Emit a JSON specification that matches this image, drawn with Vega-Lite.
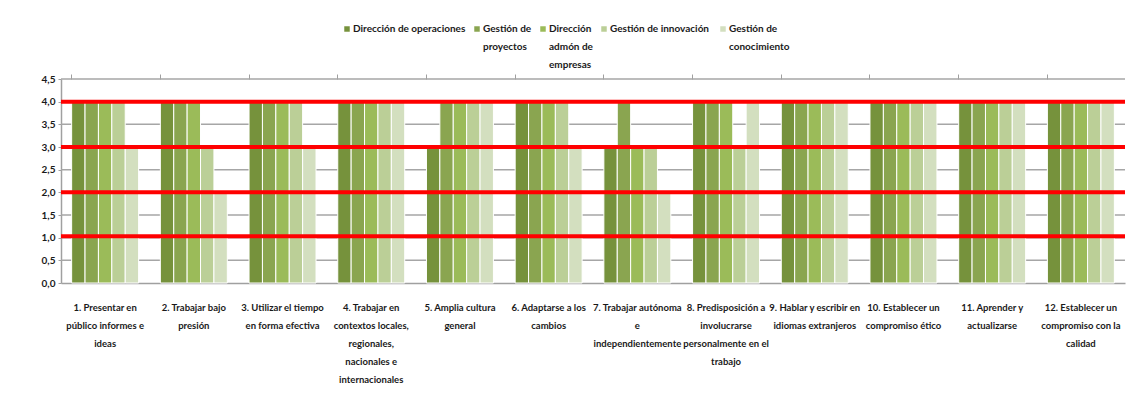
{
  "$schema": "https://vega.github.io/schema/vega-lite/v6.json",
  "width": 1064,
  "height": 204,
  "autosize": "none",
  "padding": {"left": 61, "top": 79, "right": 11, "bottom": 121},
  "background": "white",
  "config": {
    "font": "Lato",
    "view": {"stroke": null},
    "style": {"guide-label": {"lineHeight": 18}},
    "axis": {"labelFont": "Lato", "labelFontWeight": "bold", "labelFontSize": 9.5, "labelColor": "#1a1a1a", "domainColor": "#a0a0a0", "tickColor": "#a0a0a0"}
  },
  "datasets": {
    "scores": [
      {"comp": "1. Presentar en|público informes e|ideas", "serie": "Dirección de operaciones", "valor": 4},
      {"comp": "1. Presentar en|público informes e|ideas", "serie": "Gestión de proyectos", "valor": 4},
      {"comp": "1. Presentar en|público informes e|ideas", "serie": "Dirección admón de empresas", "valor": 4},
      {"comp": "1. Presentar en|público informes e|ideas", "serie": "Gestión de innovación", "valor": 4},
      {"comp": "1. Presentar en|público informes e|ideas", "serie": "Gestión de conocimiento", "valor": 3},
      {"comp": "2. Trabajar  bajo|presión", "serie": "Dirección de operaciones", "valor": 4},
      {"comp": "2. Trabajar  bajo|presión", "serie": "Gestión de proyectos", "valor": 4},
      {"comp": "2. Trabajar  bajo|presión", "serie": "Dirección admón de empresas", "valor": 4},
      {"comp": "2. Trabajar  bajo|presión", "serie": "Gestión de innovación", "valor": 3},
      {"comp": "2. Trabajar  bajo|presión", "serie": "Gestión de conocimiento", "valor": 2},
      {"comp": "3. Utilizar el tiempo|en forma efectiva", "serie": "Dirección de operaciones", "valor": 4},
      {"comp": "3. Utilizar el tiempo|en forma efectiva", "serie": "Gestión de proyectos", "valor": 4},
      {"comp": "3. Utilizar el tiempo|en forma efectiva", "serie": "Dirección admón de empresas", "valor": 4},
      {"comp": "3. Utilizar el tiempo|en forma efectiva", "serie": "Gestión de innovación", "valor": 4},
      {"comp": "3. Utilizar el tiempo|en forma efectiva", "serie": "Gestión de conocimiento", "valor": 3},
      {"comp": "4. Trabajar  en|contextos locales,|regionales,|nacionales e|internacionales", "serie": "Dirección de operaciones", "valor": 4},
      {"comp": "4. Trabajar  en|contextos locales,|regionales,|nacionales e|internacionales", "serie": "Gestión de proyectos", "valor": 4},
      {"comp": "4. Trabajar  en|contextos locales,|regionales,|nacionales e|internacionales", "serie": "Dirección admón de empresas", "valor": 4},
      {"comp": "4. Trabajar  en|contextos locales,|regionales,|nacionales e|internacionales", "serie": "Gestión de innovación", "valor": 4},
      {"comp": "4. Trabajar  en|contextos locales,|regionales,|nacionales e|internacionales", "serie": "Gestión de conocimiento", "valor": 4},
      {"comp": "5. Amplia cultura|general", "serie": "Dirección de operaciones", "valor": 3},
      {"comp": "5. Amplia cultura|general", "serie": "Gestión de proyectos", "valor": 4},
      {"comp": "5. Amplia cultura|general", "serie": "Dirección admón de empresas", "valor": 4},
      {"comp": "5. Amplia cultura|general", "serie": "Gestión de innovación", "valor": 4},
      {"comp": "5. Amplia cultura|general", "serie": "Gestión de conocimiento", "valor": 4},
      {"comp": "6. Adaptarse a los|cambios", "serie": "Dirección de operaciones", "valor": 4},
      {"comp": "6. Adaptarse a los|cambios", "serie": "Gestión de proyectos", "valor": 4},
      {"comp": "6. Adaptarse a los|cambios", "serie": "Dirección admón de empresas", "valor": 4},
      {"comp": "6. Adaptarse a los|cambios", "serie": "Gestión de innovación", "valor": 4},
      {"comp": "6. Adaptarse a los|cambios", "serie": "Gestión de conocimiento", "valor": 3},
      {"comp": "7. Trabajar autónoma|e|independientemente", "serie": "Dirección de operaciones", "valor": 3},
      {"comp": "7. Trabajar autónoma|e|independientemente", "serie": "Gestión de proyectos", "valor": 4},
      {"comp": "7. Trabajar autónoma|e|independientemente", "serie": "Dirección admón de empresas", "valor": 3},
      {"comp": "7. Trabajar autónoma|e|independientemente", "serie": "Gestión de innovación", "valor": 3},
      {"comp": "7. Trabajar autónoma|e|independientemente", "serie": "Gestión de conocimiento", "valor": 2},
      {"comp": "8. Predisposición a|involucrarse|personalmente en el|trabajo", "serie": "Dirección de operaciones", "valor": 4},
      {"comp": "8. Predisposición a|involucrarse|personalmente en el|trabajo", "serie": "Gestión de proyectos", "valor": 4},
      {"comp": "8. Predisposición a|involucrarse|personalmente en el|trabajo", "serie": "Dirección admón de empresas", "valor": 4},
      {"comp": "8. Predisposición a|involucrarse|personalmente en el|trabajo", "serie": "Gestión de innovación", "valor": 3},
      {"comp": "8. Predisposición a|involucrarse|personalmente en el|trabajo", "serie": "Gestión de conocimiento", "valor": 4},
      {"comp": "9. Hablar y escribir en|idiomas extranjeros", "serie": "Dirección de operaciones", "valor": 4},
      {"comp": "9. Hablar y escribir en|idiomas extranjeros", "serie": "Gestión de proyectos", "valor": 4},
      {"comp": "9. Hablar y escribir en|idiomas extranjeros", "serie": "Dirección admón de empresas", "valor": 4},
      {"comp": "9. Hablar y escribir en|idiomas extranjeros", "serie": "Gestión de innovación", "valor": 4},
      {"comp": "9. Hablar y escribir en|idiomas extranjeros", "serie": "Gestión de conocimiento", "valor": 4},
      {"comp": "10. Establecer un|compromiso ético", "serie": "Dirección de operaciones", "valor": 4},
      {"comp": "10. Establecer un|compromiso ético", "serie": "Gestión de proyectos", "valor": 4},
      {"comp": "10. Establecer un|compromiso ético", "serie": "Dirección admón de empresas", "valor": 4},
      {"comp": "10. Establecer un|compromiso ético", "serie": "Gestión de innovación", "valor": 4},
      {"comp": "10. Establecer un|compromiso ético", "serie": "Gestión de conocimiento", "valor": 4},
      {"comp": "11. Aprender y|actualizarse", "serie": "Dirección de operaciones", "valor": 4},
      {"comp": "11. Aprender y|actualizarse", "serie": "Gestión de proyectos", "valor": 4},
      {"comp": "11. Aprender y|actualizarse", "serie": "Dirección admón de empresas", "valor": 4},
      {"comp": "11. Aprender y|actualizarse", "serie": "Gestión de innovación", "valor": 4},
      {"comp": "11. Aprender y|actualizarse", "serie": "Gestión de conocimiento", "valor": 4},
      {"comp": "12. Establecer un|compromiso con la|calidad", "serie": "Dirección de operaciones", "valor": 4},
      {"comp": "12. Establecer un|compromiso con la|calidad", "serie": "Gestión de proyectos", "valor": 4},
      {"comp": "12. Establecer un|compromiso con la|calidad", "serie": "Dirección admón de empresas", "valor": 4},
      {"comp": "12. Establecer un|compromiso con la|calidad", "serie": "Gestión de innovación", "valor": 4},
      {"comp": "12. Establecer un|compromiso con la|calidad", "serie": "Gestión de conocimiento", "valor": 4}
    ],
    "lines": [{"valor": 4}, {"valor": 3}, {"valor": 2}, {"valor": 1.03}],
    "grid": [{"valor": 0.5}, {"valor": 1}, {"valor": 1.5}, {"valor": 2}, {"valor": 2.5}, {"valor": 3}, {"valor": 3.5}, {"valor": 4}, {"valor": 4.5}]
  },
  "encoding": {
    "y": {
      "field": "valor", "type": "quantitative",
      "scale": {"domain": [0, 4.5], "nice": false},
      "axis": {"title": null, "values": [0, 0.5, 1, 1.5, 2, 2.5, 3, 3.5, 4, 4.5], "labelOverlap": false, "labelExpr": "replace(format(datum.value, '.1f'), '.', ',')", "grid": false, "tickSize": 3, "labelPadding": 3, "labelFontSize": 10, "domainWidth": 1.5}
    }
  },
  "resolve": {"axis": {"x": "independent"}},
  "layer": [
    {
      "data": {"name": "grid"},
      "mark": {"type": "rule", "color": "#a6a6a6", "strokeWidth": 1.5}
    },
    {
      "data": {"name": "scores"},
      "mark": {"type": "bar", "stroke": "white", "strokeWidth": 1},
      "encoding": {
        "x": {
          "field": "comp", "type": "nominal", "sort": null,
          "scale": {"paddingInner": 0.245, "paddingOuter": 0.12},
          "axis": {"title": null, "labelAngle": 0, "ticks": false, "labelExpr": "split(datum.label, '|')", "labelBaseline": "top", "labelPadding": 19, "labelLineHeight": 18, "labelLimit": 200, "labelOverlap": false, "domainWidth": 1.5}
        },
        "xOffset": {"field": "serie", "type": "nominal", "sort": ["Dirección de operaciones", "Gestión de proyectos", "Dirección admón de empresas", "Gestión de innovación", "Gestión de conocimiento"]},
        "color": {
          "field": "serie", "type": "nominal",
          "scale": {"domain": ["Dirección de operaciones", "Gestión de proyectos", "Dirección admón de empresas", "Gestión de innovación", "Gestión de conocimiento"], "range": ["#76923c", "#8aa550", "#9bbb59", "#bbcf97", "#d3dfbf"]},
          "legend": {
            "title": null, "orient": "none", "legendX": 281, "legendY": -55,
            "direction": "horizontal", "columns": 5, "columnPadding": 6,
            "symbolType": "square", "symbolSize": 30, "symbolStrokeWidth": 0,
            "labelFont": "Lato",
            "labelFontWeight": "bold", "labelFontSize": 10, "labelColor": "#1a1a1a", "labelOffset": 1, "labelBaseline": "middle",
            "labelExpr": "datum.label == 'Gestión de proyectos' ? ['Gestión de', 'proyectos', ''] : datum.label == 'Dirección admón de empresas' ? ['Dirección', 'admón de', 'empresas'] : datum.label == 'Gestión de conocimiento' ? ['Gestión de', 'conocimiento', ''] : datum.label == 'Gestión de innovación' ? ['Gestión de  innovación', '', ''] : [datum.label, '', '']"
          }
        }
      }
    },
    {
      "data": {"name": "scores"},
      "mark": {"type": "text", "text": "", "opacity": 0},
      "encoding": {
        "x": {
          "field": "comp", "type": "nominal", "sort": null,
          "axis": {"title": null, "labels": false, "domain": false, "ticks": true, "tickSize": 5, "bandPosition": 0, "tickColor": "#a0a0a0", "tickWidth": 1}
        }
      }
    },
    {
      "data": {"name": "lines"},
      "mark": {"type": "rule", "color": "#ff0000", "strokeWidth": 4}
    }
  ]
}
